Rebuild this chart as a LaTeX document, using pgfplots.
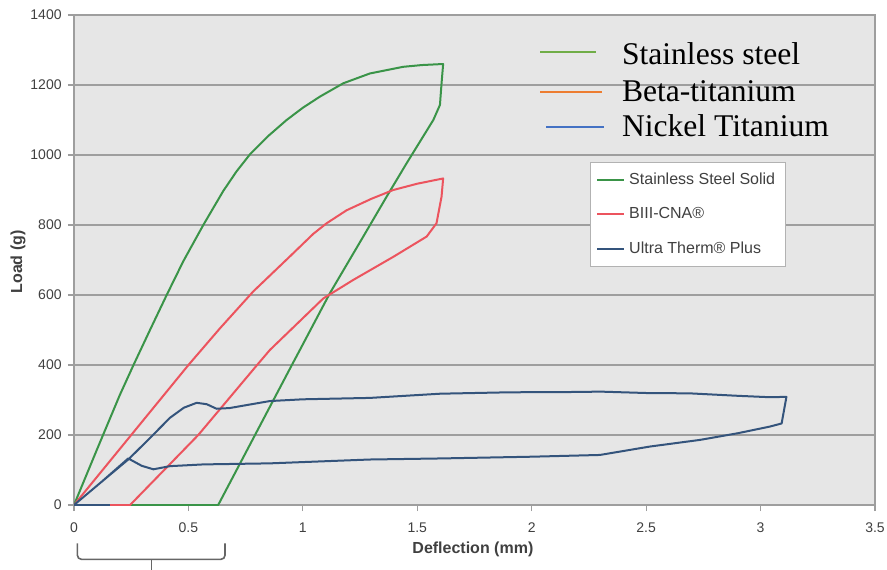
\documentclass[border=0pt]{standalone}
\usepackage{fontspec}
\setmainfont{Liberation Sans}
\newfontfamily\seriffont{Liberation Serif}
\usepackage{pgfplots}
\pgfplotsset{compat=1.18}
\definecolor{ssgreen}{RGB}{58,148,72}
\definecolor{bred}{RGB}{236,84,94}
\definecolor{ublue}{RGB}{52,84,124}
\definecolor{lgreen}{RGB}{112,173,71}
\definecolor{lorange}{RGB}{237,125,49}
\definecolor{lblue}{RGB}{68,114,196}
\definecolor{bgc}{RGB}{230,230,230}
\definecolor{gridc}{RGB}{158,158,158}
\definecolor{txt}{RGB}{64,64,64}
\begin{document}
\begin{tikzpicture}
\begin{axis}[
  at={(37pt,32pt)}, anchor=south west,
  scale only axis, width=400.5pt, height=245pt,
  xmin=0, xmax=3.5, ymin=0, ymax=1400,
  xtick={0,0.5,1,1.5,2,2.5,3,3.5},
  xticklabels={0,0.5,1,1.5,2,2.5,3,3.5},
  ytick={0,200,400,600,800,1000,1200,1400},
  yticklabels={0,200,400,600,800,1000,1200,1400},
  xtick pos=bottom, ytick pos=left,
  tick align=outside, major tick length=3pt,
  tick style={gridc, line width=0.6pt},
  axis line style={gridc, line width=0.8pt},
  ymajorgrids, major grid style={gridc, line width=0.8pt},
  axis background/.style={fill=bgc},
  ticklabel style={font=\fontsize{7}{8}\selectfont, text=txt, inner sep=0pt},
  xticklabel style={anchor=base, yshift=-10.6pt},
  yticklabel style={anchor=east, xshift=-3pt},
  xlabel={Deflection (mm)}, ylabel={Load (g)},
  label style={font=\bfseries\fontsize{8}{9}\selectfont, text=txt},
  xlabel style={at={(axis description cs:0.498,-0.0898)}, anchor=center},
  ylabel style={at={(axis description cs:-0.0699,0.496)}, anchor=center},
  legend cell align=left,
  legend style={at={(0.644,0.70)}, anchor=north west, draw=gray!60, fill=white,
    font=\fontsize{8}{9}\selectfont, text=txt, row sep=6pt, inner xsep=3pt, inner ysep=3.2pt},
  legend image code/.code={\draw[#1] (0pt,0pt) -- (13.5pt,0pt);},
  every axis plot/.append style={line width=1pt, line join=round},
]
\addplot[ssgreen] coordinates {
(0,0) (0.1,158) (0.2,314) (0.26,400) (0.332,500) (0.405,600) (0.478,697) (0.565,800)
(0.652,897) (0.71,953) (0.769,1002) (0.85,1055) (0.929,1100) (1.0,1135) (1.075,1167)
(1.177,1205) (1.293,1233) (1.439,1252) (1.52,1257) (1.613,1260)
(1.606,1205) (1.599,1143) (1.57,1100) (1.453,976) (1.366,881) (1.264,767)
(1.118,605) (0.987,443) (0.952,400) (0.791,200) (0.63,0) (0,0)
};
\addlegendentry{Stainless Steel Solid}
\addplot[bred] coordinates {
(0,0) (0.125,100) (0.25,200) (0.375,300) (0.5,400) (0.638,505) (0.783,610)
(0.943,710) (1.046,775) (1.104,805) (1.191,842) (1.3,875) (1.395,900) (1.5,918) (1.613,933)
(1.606,881) (1.584,805) (1.541,767) (1.395,709) (1.22,643) (1.089,590)
(0.856,443) (0.80,400) (0.543,200) (0.245,0) (0,0)
};
\addlegendentry{BIII-CNA®}
\addplot[ublue] coordinates {
(0.157,0) (0,0) (0.12,66) (0.237,130) (0.33,190) (0.419,249) (0.48,278) (0.536,292)
(0.58,288) (0.623,275) (0.68,277) (0.75,285) (0.856,297) (1.0,302) (1.293,306)
(1.6,318) (1.9,322) (2.21,323) (2.298,324) (2.5,320) (2.691,319) (2.9,312)
(3.04,308) (3.113,309) (3.092,233) (3.04,224) (2.9,205) (2.735,186) (2.516,167)
(2.298,143) (2.0,138) (1.6,133) (1.293,130) (0.856,119) (0.565,116) (0.419,111)
(0.347,102) (0.296,112) (0.237,133) (0.12,66) (0,0)
};
\addlegendentry{Ultra Therm® Plus}
\end{axis}
% overlay legend
\draw[lgreen, line width=1.2pt] (270pt,258.35pt) -- (298pt,258.35pt);
\draw[lorange, line width=1.2pt] (270pt,238.65pt) -- (300.85pt,238.65pt);
\draw[lblue, line width=1.2pt] (273pt,221.15pt) -- (302pt,221.15pt);
\node[anchor=base west, inner sep=0pt, font=\seriffont\fontsize{15.8}{18}\selectfont] at (310.8pt,252.35pt) {Stainless steel};
\node[anchor=base west, inner sep=0pt, font=\seriffont\fontsize{15.8}{18}\selectfont] at (310.8pt,234pt) {Beta-titanium};
\node[anchor=base west, inner sep=0pt, font=\seriffont\fontsize{15.8}{18}\selectfont] at (310.8pt,216.15pt) {Nickel Titanium};
% bracket annotation
\draw[black!60, line width=0.8pt, rounded corners=2pt] (38.7pt,12.85pt) -- (38.7pt,4.85pt) -- (112.5pt,4.85pt) -- (112.5pt,12.85pt);
\draw[black!60, line width=0.8pt] (75.8pt,4.85pt) -- (75.8pt,-2pt);
\pgfresetboundingbox
\useasboundingbox (0,0) rectangle (443.5pt,284.5pt);
\end{tikzpicture}
\end{document}
